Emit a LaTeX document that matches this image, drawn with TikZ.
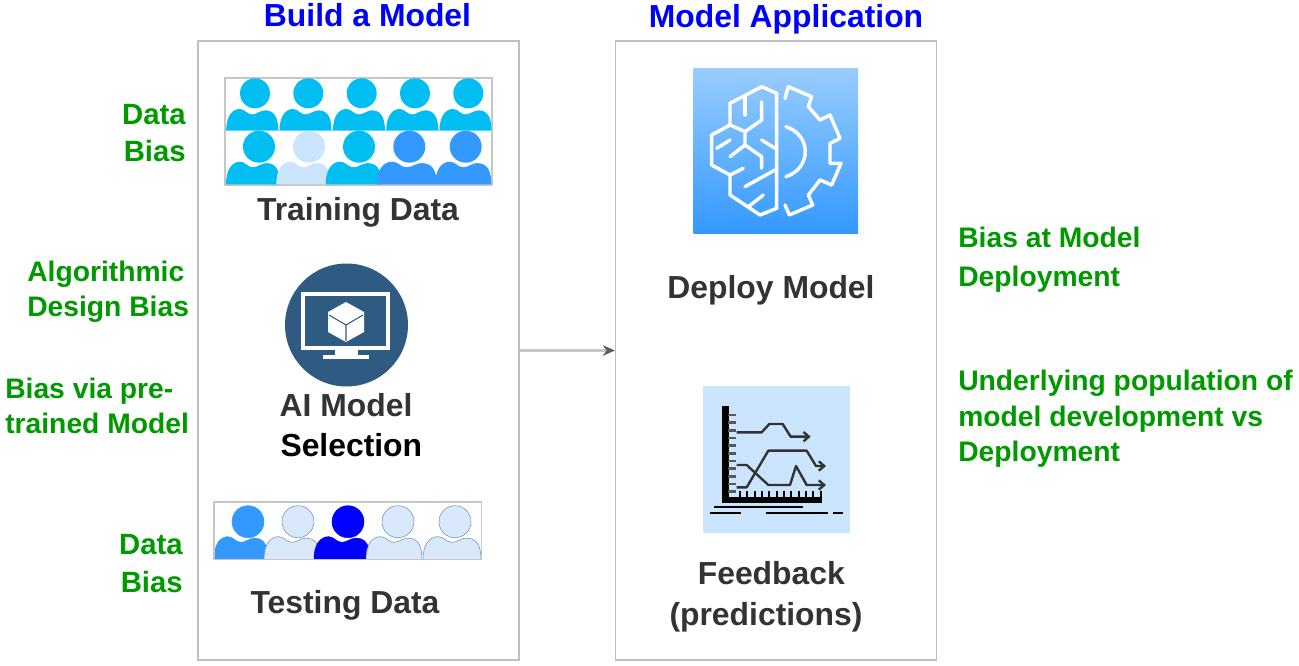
\documentclass[tikz,border=0pt]{standalone}
\usepackage{fontspec}
\setmainfont{Liberation Sans}
\usetikzlibrary{arrows.meta}
\definecolor{cyanp}{HTML}{00BEF2}
\definecolor{lightp}{HTML}{CCE5FF}
\definecolor{midp}{HTML}{3399FF}
\definecolor{paleP}{HTML}{DAE8FC}
\definecolor{paleE}{HTML}{6C8EBF}
\definecolor{darkt}{HTML}{333333}
\definecolor{greent}{HTML}{009900}
\definecolor{aiblue}{HTML}{2F5B82}
\tikzset{
  panel/.style={draw=gray!50, line width=1pt, minimum width=321*0.75pt, minimum height=619*0.75pt},
  frame/.style={draw=gray!45, line width=1pt},
  title/.style={font=\fontsize{23.9}{28}\bfseries, text=blue},
  label/.style={font=\fontsize{23.9}{30}\bfseries, text=darkt, align=center},
  biasl/.style={font=\fontsize{21.2}{26.5}\bfseries, text=greent, inner sep=0pt},
  biasd/.style={biasl, font=\fontsize{22}{26.5}\bfseries, align=right, anchor=east},
  iconline/.style={draw=white, line width=2.6pt, line join=round, line cap=round},
  plotline/.style={draw=black!80, line width=1.8pt, line join=round},
  plotarrow/.style={plotline, -{Straight Barb[length=4pt,width=7pt]}}
}
% head at x,y with radius r
\newcommand{\headp}[4]{\path[#4] (#1,#2) circle (#3);}
% body: centre x, half width, shoulder top, bottom
\newcommand{\torso}[5]{
  \begin{scope}[shift={(#1,#4)},xscale=#2,yscale=#4-#3]
    \path[#5] (-1,0) .. controls (-1,-0.7) and (-0.75,-1) .. (-0.48,-1)
      .. controls (-0.28,-1) and (-0.2,-0.75) .. (0,-0.75)
      .. controls (0.2,-0.75) and (0.3,-0.97) .. (0.58,-0.93)
      .. controls (0.88,-0.88) and (1,-0.55) .. (1,0) -- cycle;
  \end{scope}
}
\begin{document}
\begin{tikzpicture}[x=0.75pt,y=-0.75pt]
\useasboundingbox (0,0) rectangle (1299,666);

\node[panel] at (358.5,350.5) (buildbox){};
\node[panel] at (776,350.5) (appbox){};
\draw[draw=gray!45, line width=2pt, -{Stealth[length=9pt,width=8pt,darkt!80]}] (buildbox.east) -- (appbox.west);

\node[title] at (367.5,15.5) (buildtitle){Build a Model};
\node[title] at (786,19) (apptitle){Model Application};

% training data people
\draw[frame] (225,78) rectangle (492,185);
\foreach \px in {255,308.3,361.7,415,468.3}{
  \headp{\px}{93.3}{15}{fill=cyanp}
  \torso{\px-2.8}{26}{109}{130.7}{fill=cyanp}
}
\draw[cyanp!60, line width=1.2pt] (225,130.7) -- (492,130.7);
\foreach \hx/\bx/\bw/\pcol in {259/253/27/cyanp,309/303.3/27/lightp,359/353.7/28/cyanp,409.3/406.7/30/midp,465.7/463.3/28/midp}{
  \headp{\hx}{146.7}{16}{fill=\pcol}
  \torso{\bx}{\bw}{161.7}{184.3}{fill=\pcol}
}
\node[label] at (358,212.5) (traindata){Training Data};

% model selection icon
\fill[aiblue] (346.5,325) circle (61.5);
\draw[white, line width=3pt] (303,294) rectangle (388,348);
\fill[white] (335,349) rectangle (358,355);
\fill[white] (323,355) rectangle (369,359);
\fill[white] (346,302) -- (364,312) -- (364,332) -- (346,342) -- (328,332) -- (328,312) -- cycle;
\draw[aiblue, line width=0.8pt] (329,315) -- (346,325) -- (363,315) (346,325) -- (346,341);
\node[label] at (346,425) (aimodel){\textcolor{darkt}{AI Model}\\\textcolor{black}{\hspace*{8pt}Selection}};

% testing data people
\begin{scope}
\clip (214,502) rectangle (481.7,559.3);
\foreach \hx/\bx/\bw/\pcol/\pedge in {248/241/27/midp/midp,298/292/28/paleP/paleE,348/342/28/blue/blue,398/394/28/paleP/paleE,455/452/29/paleP/paleE}{
  \headp{\hx}{521.7}{16}{fill=\pcol,draw=\pedge}
  \torso{\bx}{\bw}{536.7}{559.3}{fill=\pcol,draw=\pedge}
}
\end{scope}
\draw[frame] (214,502) rectangle (481.7,559.3);
\node[label] at (345,605) (testdata){Testing Data};

% deploy icon
\fill[top color=midp!50, bottom color=midp] (693.5,69) rectangle (858,233.5);
\begin{scope}[shift={(680,60)},x=0.25pt,y=-0.25pt]
\draw[iconline] (290,100) -- (245,80) -- (150,130) -- (150,195) -- (95,225) -- (95,315) -- (150,345) -- (150,405) -- (240,465) -- (290,445) -- cycle;
\draw[iconline] (195,110) -- (195,165);
\draw[iconline] (245,125) -- (245,180) -- (195,215) -- (150,195);
\draw[iconline] (195,215) -- (195,255) -- (245,290) -- (245,325);
\draw[iconline] (245,240) -- (285,265);
\draw[iconline] (110,265) -- (150,240);
\draw[iconline] (195,255) -- (150,290);
\draw[iconline] (150,345) -- (190,325);
\draw[iconline] (195,380) -- (285,330);
\draw[iconline] (205,440) -- (250,405);
\draw[iconline] (315,115) -- (325,80) -- (395,110) -- (385,140) -- (420,180) -- (450,165) -- (480,235) -- (450,250) -- (450,310) -- (483,310) -- (455,375) -- (420,360) -- (385,405) -- (398,435) -- (328,465) -- (315,435);
\draw[iconline] (318,200) .. controls (395,225) and (395,325) .. (318,350);
\end{scope}
\node[label] at (771,290.5) (deploy){Deploy Model};

% feedback icon
\fill[lightp] (702.7,386) rectangle (850,533);
\begin{scope}[shift={(690,380)},x=0.25pt,y=-0.25pt]
\fill[black] (95,78) rectangle (117,368);
\fill[black] (95,350) rectangle (395,368);
\foreach \ty in {105,128,...,335}{
  \draw[black!65, line width=1.8pt] (115,\ty) -- (138,\ty);
}
\foreach \tx in {150,172,...,392}{
  \draw[black, line width=1.5pt] (\tx,332) -- (\tx,350);
}
\draw[plotarrow] (140,157) -- (215,157) -- (238,132) -- (278,132) -- (302,170) -- (362,170);
\draw[plotarrow] (140,255) -- (170,255) -- (235,315) -- (300,315) -- (318,258) -- (350,315) -- (408,315);
\draw[plotarrow] (140,322) -- (170,322) -- (235,212) -- (350,212) -- (378,258) -- (408,258);
\draw[black, line width=1.3pt] (72,382) -- (340,382);
\draw[black, line width=1.3pt] (60,398) -- (152,398) (228,398) -- (415,398) (428,398) -- (458,398);
\end{scope}
\node[label] at (766,597) (feedback){\hspace*{8pt}Feedback\\[0.8pt](predictions)};

% bias labels
\node[biasd] at (186,133) (databias){Data\\[1.5pt]Bias};
\node[biasl, align=left, anchor=west] at (27,292) (algobias){Algorithmic\\Design Bias};
\node[biasl, align=left, anchor=west] at (5,406) (prebias){Bias via pre-\\trained Model};
\node[biasd] at (183,563.5) (testbias){Data\\[1.5pt]Bias};
\node[biasl, align=left, anchor=west] at (958,260) (deploybias){Bias at Model\\[3pt]Deployment};
\node[biasl, align=left, anchor=west] at (958,419) (popbias){Underlying population of\\model development vs\\Deployment};

\end{tikzpicture}
\end{document}
